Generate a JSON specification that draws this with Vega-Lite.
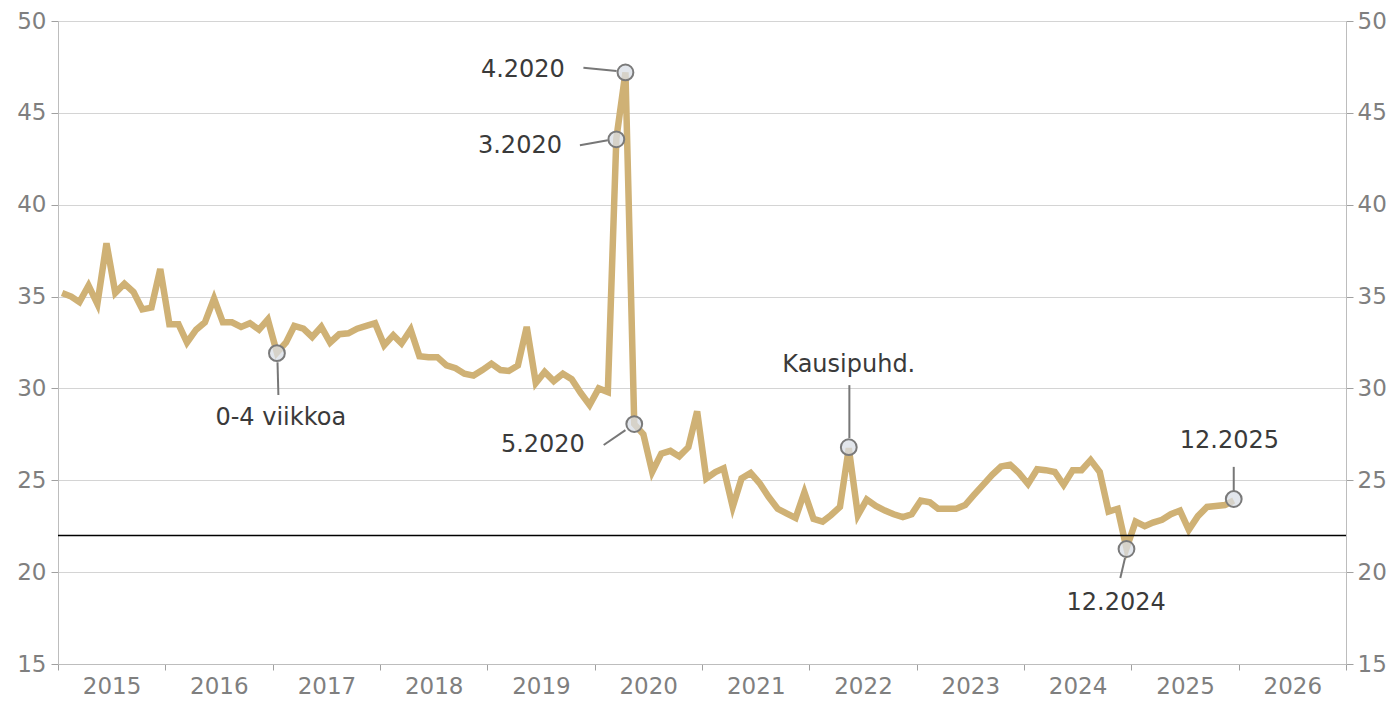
{
  "$schema": "https://vega.github.io/schema/vega-lite/v6.json",
  "width": 1288,
  "height": 643,
  "autosize": "none",
  "padding": {"left": 58, "top": 21, "right": 45, "bottom": 38},
  "background": "white",
  "config": {
    "view": {"stroke": null},
    "font": "DejaVu Sans",
    "axis": {"labelFont": "DejaVu Sans", "titleFont": "DejaVu Sans"}
  },
  "datasets": {
    "series": [
      {"d":"2015-01-15","v":35.2},{"d":"2015-02-15","v":35.0},{"d":"2015-03-15","v":34.7},{"d":"2015-04-15","v":35.6},{"d":"2015-05-15","v":34.6},{"d":"2015-06-15","v":37.9},{"d":"2015-07-15","v":35.2},{"d":"2015-08-15","v":35.7},{"d":"2015-09-15","v":35.25},{"d":"2015-10-15","v":34.3},{"d":"2015-11-15","v":34.4},{"d":"2015-12-15","v":36.5},
      {"d":"2016-01-15","v":33.5},{"d":"2016-02-15","v":33.5},{"d":"2016-03-15","v":32.5},{"d":"2016-04-15","v":33.2},{"d":"2016-05-15","v":33.6},{"d":"2016-06-15","v":34.9},{"d":"2016-07-15","v":33.6},{"d":"2016-08-15","v":33.6},{"d":"2016-09-15","v":33.35},{"d":"2016-10-15","v":33.55},{"d":"2016-11-15","v":33.2},{"d":"2016-12-15","v":33.75},
      {"d":"2017-01-15","v":31.95},{"d":"2017-02-15","v":32.5},{"d":"2017-03-15","v":33.4},{"d":"2017-04-15","v":33.25},{"d":"2017-05-15","v":32.8},{"d":"2017-06-15","v":33.35},{"d":"2017-07-15","v":32.5},{"d":"2017-08-15","v":32.95},{"d":"2017-09-15","v":33.0},{"d":"2017-10-15","v":33.25},{"d":"2017-11-15","v":33.4},{"d":"2017-12-15","v":33.55},
      {"d":"2018-01-15","v":32.35},{"d":"2018-02-15","v":32.9},{"d":"2018-03-15","v":32.45},{"d":"2018-04-15","v":33.2},{"d":"2018-05-15","v":31.75},{"d":"2018-06-15","v":31.7},{"d":"2018-07-15","v":31.7},{"d":"2018-08-15","v":31.25},{"d":"2018-09-15","v":31.1},{"d":"2018-10-15","v":30.8},{"d":"2018-11-15","v":30.7},{"d":"2018-12-15","v":31.0},
      {"d":"2019-01-15","v":31.35},{"d":"2019-02-15","v":31.0},{"d":"2019-03-15","v":30.95},{"d":"2019-04-15","v":31.25},{"d":"2019-05-15","v":33.35},{"d":"2019-06-15","v":30.3},{"d":"2019-07-15","v":30.9},{"d":"2019-08-15","v":30.4},{"d":"2019-09-15","v":30.8},{"d":"2019-10-15","v":30.5},{"d":"2019-11-15","v":29.75},{"d":"2019-12-15","v":29.1},
      {"d":"2020-01-15","v":30.0},{"d":"2020-02-15","v":29.8},{"d":"2020-03-15","v":43.6},{"d":"2020-04-15","v":47.2},{"d":"2020-05-15","v":28.06},{"d":"2020-06-15","v":27.5},{"d":"2020-07-15","v":25.45},{"d":"2020-08-15","v":26.45},{"d":"2020-09-15","v":26.6},{"d":"2020-10-15","v":26.3},{"d":"2020-11-15","v":26.8},{"d":"2020-12-15","v":28.75},
      {"d":"2021-01-15","v":25.1},{"d":"2021-02-15","v":25.45},{"d":"2021-03-15","v":25.65},{"d":"2021-04-15","v":23.55},{"d":"2021-05-15","v":25.1},{"d":"2021-06-15","v":25.4},{"d":"2021-07-15","v":24.85},{"d":"2021-08-15","v":24.1},{"d":"2021-09-15","v":23.45},{"d":"2021-10-15","v":23.2},{"d":"2021-11-15","v":22.95},{"d":"2021-12-15","v":24.35},
      {"d":"2022-01-15","v":22.9},{"d":"2022-02-15","v":22.75},{"d":"2022-03-15","v":23.1},{"d":"2022-04-15","v":23.55},{"d":"2022-05-15","v":26.75},{"d":"2022-06-15","v":23.1},{"d":"2022-07-15","v":23.95},{"d":"2022-08-15","v":23.6},{"d":"2022-09-15","v":23.35},{"d":"2022-10-15","v":23.15},{"d":"2022-11-15","v":23.0},{"d":"2022-12-15","v":23.15},
      {"d":"2023-01-15","v":23.9},{"d":"2023-02-15","v":23.8},{"d":"2023-03-15","v":23.45},{"d":"2023-04-15","v":23.45},{"d":"2023-05-15","v":23.45},{"d":"2023-06-15","v":23.65},{"d":"2023-07-15","v":24.2},{"d":"2023-08-15","v":24.75},{"d":"2023-09-15","v":25.3},{"d":"2023-10-15","v":25.75},{"d":"2023-11-15","v":25.85},{"d":"2023-12-15","v":25.4},
      {"d":"2024-01-15","v":24.8},{"d":"2024-02-15","v":25.6},{"d":"2024-03-15","v":25.55},{"d":"2024-04-15","v":25.45},{"d":"2024-05-15","v":24.75},{"d":"2024-06-15","v":25.55},{"d":"2024-07-15","v":25.55},{"d":"2024-08-15","v":26.1},{"d":"2024-09-15","v":25.45},{"d":"2024-10-15","v":23.3},{"d":"2024-11-15","v":23.45},{"d":"2024-12-15","v":21.3},
      {"d":"2025-01-15","v":22.75},{"d":"2025-02-15","v":22.5},{"d":"2025-03-15","v":22.7},{"d":"2025-04-15","v":22.85},{"d":"2025-05-15","v":23.15},{"d":"2025-06-15","v":23.35},{"d":"2025-07-15","v":22.3},{"d":"2025-08-15","v":23.05},{"d":"2025-09-15","v":23.55},{"d":"2025-10-15","v":23.6},{"d":"2025-11-15","v":23.65},{"d":"2025-12-15","v":23.9}
    ],
    "circles": [
      {"d":"2017-01-15","v":31.92},
      {"d":"2020-03-15","v":43.56},
      {"d":"2020-04-15","v":47.2},
      {"d":"2020-05-15","v":28.06},
      {"d":"2022-05-15","v":26.8},
      {"d":"2024-12-15","v":21.26},
      {"d":"2025-12-15","v":23.98}
    ],
    "leaders": [
      {"x1":"2019-11-24","y1":47.46,"x2":"2020-03-16","y2":47.28},
      {"x1":"2019-11-12","y1":43.24,"x2":"2020-02-15","y2":43.51},
      {"x1":"2020-02-01","y1":26.92,"x2":"2020-04-15","y2":27.73},
      {"x1":"2017-01-17","y1":31.43,"x2":"2017-01-20","y2":29.64},
      {"x1":"2022-05-17","y1":30.18,"x2":"2022-05-17","y2":27.3},
      {"x1":"2025-12-15","y1":25.73,"x2":"2025-12-15","y2":24.37},
      {"x1":"2024-12-10","y1":20.77,"x2":"2024-11-24","y2":19.68}
    ],
    "labels": [
      {"d":"2019-05-02","v":47.32,"t":"4.2020"},
      {"d":"2019-04-22","v":43.18,"t":"3.2020"},
      {"d":"2019-07-09","v":26.92,"t":"5.2020"},
      {"d":"2017-01-28","v":28.38,"t":"0-4 viikkoa"},
      {"d":"2022-05-15","v":31.27,"t":"Kausipuhd."},
      {"d":"2025-11-30","v":27.13,"t":"12.2025"},
      {"d":"2024-11-10","v":18.32,"t":"12.2024"}
    ]
  },
  "resolve": {"axis": {"y": "independent"}},
  "layer": [
    {
      "data": {"name": "series"},
      "mark": {"type": "line", "color": "#CFB175", "strokeWidth": 6.5, "strokeJoin": "miter"},
      "encoding": {
        "x": {
          "field": "d", "type": "temporal", "title": null,
          "scale": {"type": "utc", "domain": ["2015-01-01", "2027-01-01"]},
          "axis": {
            "orient": "bottom",
            "tickCount": {"interval": "year", "step": 1},
            "grid": false,
            "domainColor": "#bdbdbd",
            "tickColor": "#a0a0a0",
            "tickSize": 6,
            "labelFontSize": 23,
            "labelColor": "#7f7f7f",
            "labelPadding": 5,
            "labelOffset": 53.6,
            "labelAlign": "center",
            "labelOverlap": false,
            "labelBound": false,
            "labelFlush": false,
            "labelExpr": "utcyear(datum.value) >= 2027 ? '' : utcFormat(datum.value, '%Y')"
          }
        },
        "y": {
          "field": "v", "type": "quantitative", "title": null,
          "scale": {"domain": [15, 50], "nice": false, "zero": false},
          "axis": {
            "orient": "left",
            "values": [15, 20, 25, 30, 35, 40, 45, 50],
            "grid": true,
            "gridColor": "#d4d4d4",
            "gridWidth": 1,
            "domainColor": "#bdbdbd",
            "tickColor": "#a0a0a0",
            "tickSize": 7,
            "labelFontSize": 23,
            "labelColor": "#7f7f7f",
            "labelPadding": 5
          }
        }
      }
    },
    {
      "data": {"values": [{"r": 22}]},
      "mark": {"type": "rule", "color": "#000000", "strokeWidth": 1.5},
      "encoding": {
        "y": {"field": "r", "type": "quantitative", "title": null, "axis": null}
      }
    },
    {
      "data": {"name": "leaders"},
      "mark": {"type": "rule", "color": "#777777", "strokeWidth": 2},
      "encoding": {
        "x": {"field": "x1", "type": "temporal", "title": null},
        "x2": {"field": "x2"},
        "y": {"field": "y1", "type": "quantitative", "title": null, "axis": null},
        "y2": {"field": "y2"}
      }
    },
    {
      "data": {"name": "circles"},
      "mark": {"type": "point", "shape": "circle", "size": 250, "filled": false, "fill": "#d8dde6", "fillOpacity": 0.75, "stroke": "#7a7a7a", "strokeWidth": 2, "opacity": 1},
      "encoding": {
        "x": {"field": "d", "type": "temporal", "title": null},
        "y": {
          "field": "v", "type": "quantitative", "title": null,
          "axis": {
            "orient": "right",
            "values": [15, 20, 25, 30, 35, 40, 45, 50],
            "grid": false,
            "domainColor": "#bdbdbd",
            "tickColor": "#a0a0a0",
            "tickSize": 7,
            "labelFontSize": 23,
            "labelColor": "#7f7f7f",
            "labelPadding": 4
          }
        }
      }
    },
    {
      "data": {"name": "labels"},
      "mark": {"type": "text", "fontSize": 24, "color": "#3a3a3a", "align": "center", "baseline": "middle", "font": "DejaVu Sans"},
      "encoding": {
        "x": {"field": "d", "type": "temporal", "title": null},
        "y": {"field": "v", "type": "quantitative", "title": null, "axis": null},
        "text": {"field": "t"}
      }
    }
  ]
}
